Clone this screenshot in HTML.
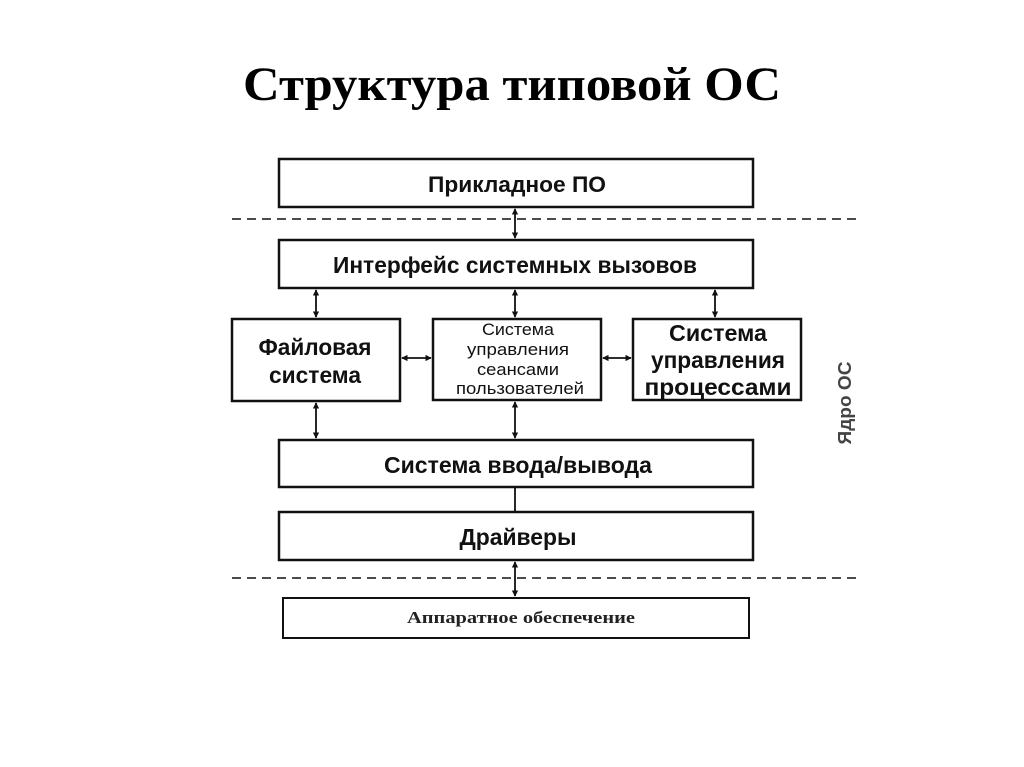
<!DOCTYPE html>
<html><head><meta charset="utf-8"><style>
html,body{margin:0;padding:0;background:#fff;}
svg{display:block;}
.s{font-family:"Liberation Sans","DejaVu Sans",sans-serif;font-weight:bold;fill:#111;}
.m{font-family:"Liberation Sans","DejaVu Sans",sans-serif;fill:#111;}
</style></head><body>
<svg width="1024" height="767" viewBox="0 0 1024 767" xmlns="http://www.w3.org/2000/svg">
<defs>
<marker id="a" viewBox="0 0 8 8" refX="7" refY="4" markerWidth="3.5" markerHeight="3.5" orient="auto-start-reverse"><path d="M0,0 L8,4 L0,8 z" fill="#111"/></marker>
</defs>
<text x="512" y="100" text-anchor="middle" font-family="Liberation Serif,serif" font-weight="bold" font-size="48" textLength="538" lengthAdjust="spacingAndGlyphs" fill="#000">Структура типовой ОС</text>

<g fill="#fff" stroke="#111" stroke-width="2.5">
<rect x="279" y="159" width="474" height="48"/>
<rect x="279" y="240" width="474" height="48"/>
<rect x="232" y="319" width="168" height="82"/>
<rect x="433" y="319" width="168" height="81"/>
<rect x="633" y="319" width="168" height="81"/>
<rect x="279" y="440" width="474" height="47"/>
<rect x="279" y="512" width="474" height="48"/>
<rect x="283" y="598" width="466" height="40" stroke-width="2"/>
</g>

<g stroke="#333" stroke-width="1.8" stroke-dasharray="9,6">
<line x1="232" y1="219" x2="862" y2="219"/>
<line x1="232" y1="578" x2="862" y2="578"/>
</g>

<g stroke="#111" stroke-width="1.8" marker-start="url(#a)" marker-end="url(#a)">
<line x1="515" y1="209" x2="515" y2="238"/>
<line x1="316" y1="290" x2="316" y2="317"/>
<line x1="515" y1="290" x2="515" y2="317"/>
<line x1="715" y1="290" x2="715" y2="317"/>
<line x1="402" y1="358" x2="431" y2="358"/>
<line x1="603" y1="358" x2="631" y2="358"/>
<line x1="316" y1="403" x2="316" y2="438"/>
<line x1="515" y1="402" x2="515" y2="438"/>
<line x1="515" y1="562" x2="515" y2="596"/>
</g>
<line x1="515" y1="488" x2="515" y2="511" stroke="#111" stroke-width="1.8"/>

<text class="s" x="517" y="192" text-anchor="middle" font-size="22" textLength="178" lengthAdjust="spacingAndGlyphs">Прикладное ПО</text>
<text class="s" x="515" y="273" text-anchor="middle" font-size="23" textLength="364" lengthAdjust="spacingAndGlyphs">Интерфейс системных вызовов</text>
<text class="s" x="315" y="355" text-anchor="middle" font-size="23" textLength="113" lengthAdjust="spacingAndGlyphs">Файловая</text>
<text class="s" x="315" y="383" text-anchor="middle" font-size="23" textLength="92" lengthAdjust="spacingAndGlyphs">система</text>
<g class="m" font-size="17" text-anchor="middle">
<text x="518" y="335" textLength="72" lengthAdjust="spacingAndGlyphs">Система</text>
<text x="518" y="355" textLength="102" lengthAdjust="spacingAndGlyphs">управления</text>
<text x="518" y="375" textLength="82" lengthAdjust="spacingAndGlyphs">сеансами</text>
<text x="520" y="394" textLength="128" lengthAdjust="spacingAndGlyphs">пользователей</text>
</g>
<text class="s" x="718" y="341" text-anchor="middle" font-size="23" textLength="98" lengthAdjust="spacingAndGlyphs">Система</text>
<text class="s" x="718" y="368" text-anchor="middle" font-size="23" textLength="134" lengthAdjust="spacingAndGlyphs">управления</text>
<text class="s" x="718" y="395" text-anchor="middle" font-size="23" textLength="147" lengthAdjust="spacingAndGlyphs">процессами</text>
<text class="s" x="518" y="473" text-anchor="middle" font-size="23" textLength="268" lengthAdjust="spacingAndGlyphs">Система ввода/вывода</text>
<text class="s" x="518" y="545" text-anchor="middle" font-size="23" textLength="117" lengthAdjust="spacingAndGlyphs">Драйверы</text>
<text x="521" y="623" text-anchor="middle" font-family="Liberation Serif,serif" font-weight="bold" font-size="17" textLength="228" lengthAdjust="spacingAndGlyphs" fill="#222">Аппаратное обеспечение</text>
<text transform="translate(851,403) rotate(-90)" text-anchor="middle" font-family="Liberation Sans,sans-serif" font-weight="bold" font-size="18" textLength="83" lengthAdjust="spacingAndGlyphs" fill="#444">Ядро ОС</text>
</svg>
</body></html>
